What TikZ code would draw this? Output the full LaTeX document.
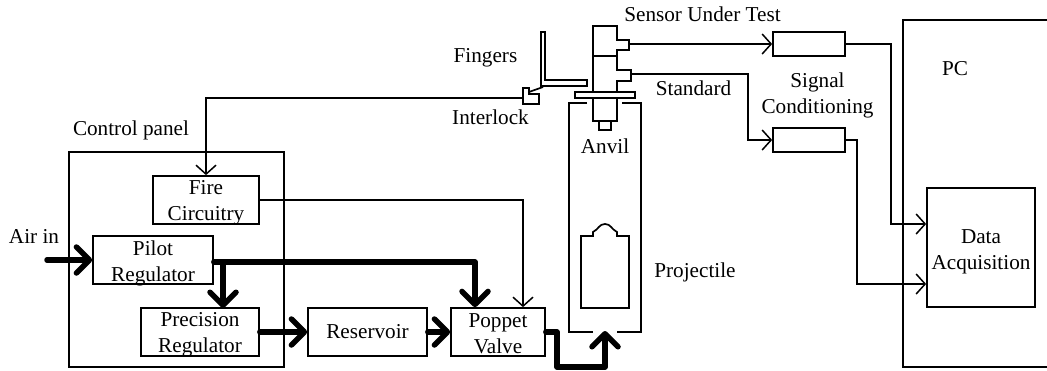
\documentclass[tikz,border=0pt]{standalone}
\usepackage{fontspec}
\setmainfont{Liberation Serif}
\usetikzlibrary{arrows.meta,calc}
\tikzset{
  line/.style={line width=1.7pt,line join=miter},
  wire/.style={line width=1.5pt,-{Straight Barb[length=9pt,width=20pt,line width=1.5pt]}},
  pipe/.style={line width=5.5pt,line cap=round,line join=round},
  pipearrow/.style={pipe,-{Straight Barb[length=13pt,width=26pt,line width=5.5pt,round]}},
  boxn/.style={draw,line width=1.7pt,inner sep=0pt,align=center,font=\fontsize{21.2}{26}\selectfont},
  lab/.style={inner sep=0pt,align=center,font=\fontsize{21.2}{26}\selectfont},
  boxtext/.style 2 args={label={[lab,yshift=-#1]center:{#2}}}
}
\begin{document}
\begin{tikzpicture}[x=1pt,y=-1pt]
\useasboundingbox (0,0) rectangle (1047,370);
% boxes
\node[boxn,minimum width=215pt,minimum height=215pt] (panel) at (176.5,259.5) {};
\node[boxn,minimum width=106pt,minimum height=48pt,boxtext={3pt}{Fire\\Circuitry}] (fire) at (206,200) {};
\node[boxn,minimum width=120pt,minimum height=48pt,boxtext={3pt}{Pilot\\Regulator}] (pilot) at (153,260) {};
\node[boxn,minimum width=118pt,minimum height=48pt,boxtext={3pt}{Precision\\Regulator}] (prec) at (200,332) {};
\node[boxn,minimum width=119pt,minimum height=48pt] (res) at (367.5,332) {Reservoir};
\node[boxn,minimum width=94pt,minimum height=48pt,boxtext={2pt}{Poppet\\Valve}] (pop) at (498,332) {};
\node[boxn,minimum width=72pt,minimum height=24pt] (sc1) at (809,44) {};
\node[boxn,minimum width=72pt,minimum height=24pt] (sc2) at (809,140) {};
\node[boxn,minimum width=108pt,minimum height=119pt,boxtext={4pt}{Data\\Acquisition}] (daq) at (981,247.5) {};
% free ends
\coordinate (airin) at (47,260);
\coordinate (sens1) at (629,44);
\coordinate (sens2) at (631,74);
\coordinate (ilk) at (523,98);
\coordinate (anvilin) at (605,331);
% PC box
\draw[line] (1047,20) -- (903,20) -- (903,367) -- (1047,367);
% sensor
\draw[line] (593,92) -- (593,26) -- (617,26) -- (617,40) -- (629,40) -- (629,50) -- (617,50) -- (617,70) -- (631,70) -- (631,81) -- (617,81) -- (617,92);
\draw[line] (593,56) -- (617,56);
\draw[line] (575,92) rectangle (635,98);
\draw[line] (593,98) -- (593,121) -- (617,121) -- (617,98);
\draw[line] (599,121) -- (599,130) -- (611,130) -- (611,121);
% fingers
\draw[line] (541,32) -- (545,32) -- (545,80) -- (587,80) -- (587,86) -- (541,86) -- cycle;
\draw[line] (529,92) -- (543,87);
% interlock
\draw[line] (523,88) -- (529,88) -- (529,94) -- (539,94) -- (539,104) -- (523,104) -- cycle;
% anvil tube
\draw[line] (587,103) -- (569,103) -- (569,332) -- (593,332);
\draw[line] (622,103) -- (641,103) -- (641,332) -- (617,332);
% projectile
\draw[line] (593,236) -- (581,236) -- (581,308) -- (629,308) -- (629,236) -- (617,236)
  -- (617,232) .. controls (611,229) and (611,224) .. (605,224) .. controls (599,224) and (599,229) .. (593,232) -- cycle;
% wires
\draw[wire] (ilk) -| (fire.north);
\draw[wire] (fire.east) -| ([xshift=25pt]pop.north);
\draw[wire] (sens1) -- (sc1.west);
\draw[wire] (sens2) -| (748,140) -- (sc2.west);
\draw[wire] (sc1.east) -| (891,224) -- (daq.west |- 0,224);
\draw[wire] (sc2.east) -| (857,284) -- (daq.west |- 0,284);
% pipes
\draw[pipearrow] (airin) -- (pilot.west);
\draw[pipearrow] ([yshift=-2pt]pilot.east) -| ([xshift=-23pt]pop.north);
\draw[pipearrow] (223,262) -- (223,308);
\draw[pipearrow] (prec.east) -- (res.west);
\draw[pipearrow] (res.east) -- (pop.west);
\draw[pipearrow] (pop.east) -| (557,367) -| (anvilin);
% labels
\node[lab] (l1) at (702.5,14) {Sensor Under Test};
\node[lab] (l2) at (485.5,58) {Fingers};
\node[lab] (l3) at (490.5,117) {Interlock};
\node[lab] (l4) at (693.5,88) {Standard};
\node[lab] (l5) at (817.5,95) {Signal\\Conditioning};
\node[lab] (l6) at (955,69) {PC};
\node[lab] (l7) at (131,130) {Control panel};
\node[lab] (l8) at (34,236) {Air in};
\node[lab] (l9) at (605,146) {Anvil};
\node[lab] (l10) at (695,272) {Projectile};
\end{tikzpicture}
\end{document}
